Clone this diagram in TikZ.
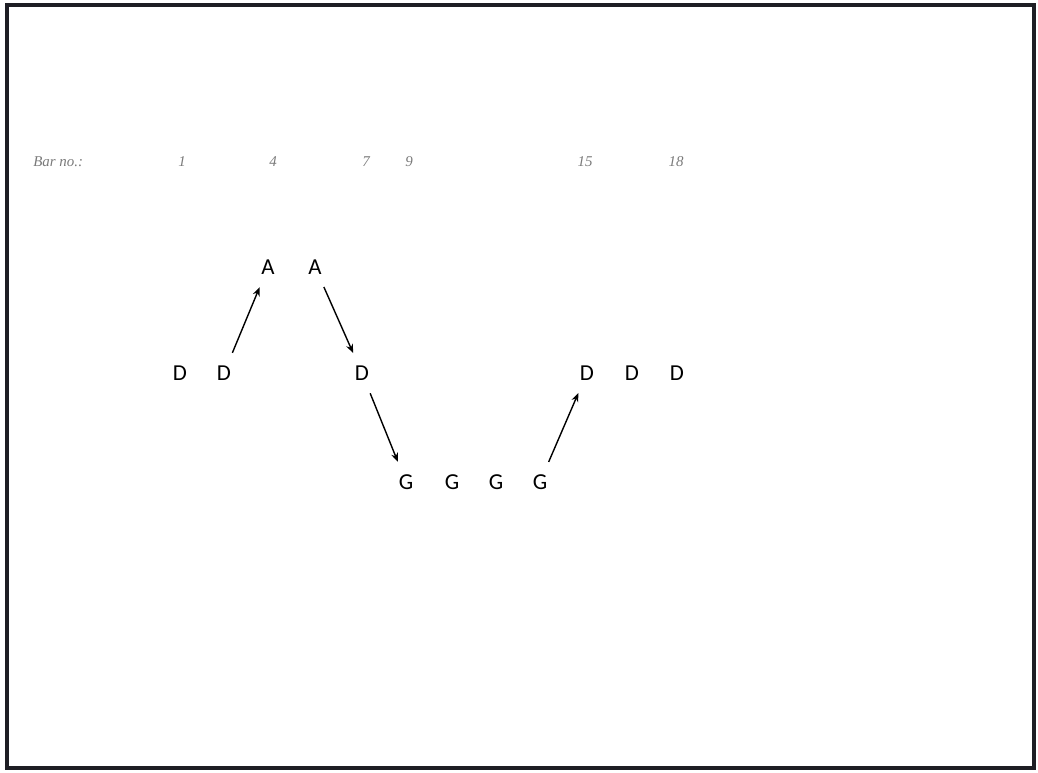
\documentclass[tikz,border=0pt]{standalone}
\usepackage{xcolor}
\usepackage{fontspec}
\setmainfont{Liberation Serif}
\newfontfamily\notefont{Carlito}
\usetikzlibrary{arrows.meta}
\definecolor{frame}{HTML}{1e1e24}
\definecolor{barnum}{HTML}{7a7a7a}

\tikzset{
    note/.style={circle, inner sep=0pt, minimum size=0.86cm, font=\notefont\fontsize{13}{15}\selectfont},
    barlabel/.style={inner sep=0pt, text=barnum, font=\itshape\fontsize{8.5}{10}\selectfont},
    move/.style={-{Stealth[length=5pt, width=4pt]}, line width=0.8pt}
}

\begin{document}
\begin{tikzpicture}[x=0.02cm, y=-0.02cm]
        \useasboundingbox (0,0) rectangle (1038,772);
        % frame
        \draw[frame, line width=1.8pt] (7,5) rectangle (1034,768);

        % bar numbers
        \node[barlabel, anchor=west] (barno) at (33,162) {Bar no.:};
        \node[barlabel] (b1) at (182,162) {1};
        \node[barlabel] (b4) at (273,162) {4};
        \node[barlabel] (b7) at (366,162) {7};
        \node[barlabel] (b9) at (409,162) {9};
        \node[barlabel] (b15) at (585,162) {15};
        \node[barlabel] (b18) at (676,162) {18};

        % notes
        \node[note] (d1) at (180,373) {D};
        \node[note] (d2) at (224,373) {D};
        \node[note] (a1) at (268,267) {A};
        \node[note] (a2) at (315,267) {A};
        \node[note] (d3) at (362,373) {D};
        \node[note] (g1) at (406,482) {G};
        \node[note] (g2) at (452,482) {G};
        \node[note] (g3) at (496,482) {G};
        \node[note] (g4) at (540,482) {G};
        \node[note] (d4) at (587,373) {D};
        \node[note] (d5) at (632,373) {D};
        \node[note] (d6) at (677,373) {D};

        % movements
        \draw[move] (d2) -- (a1);
        \draw[move] (a2) -- (d3);
        \draw[move] (d3) -- (g1);
        \draw[move] (g4) -- (d4);
    \end{tikzpicture}
\end{document}
